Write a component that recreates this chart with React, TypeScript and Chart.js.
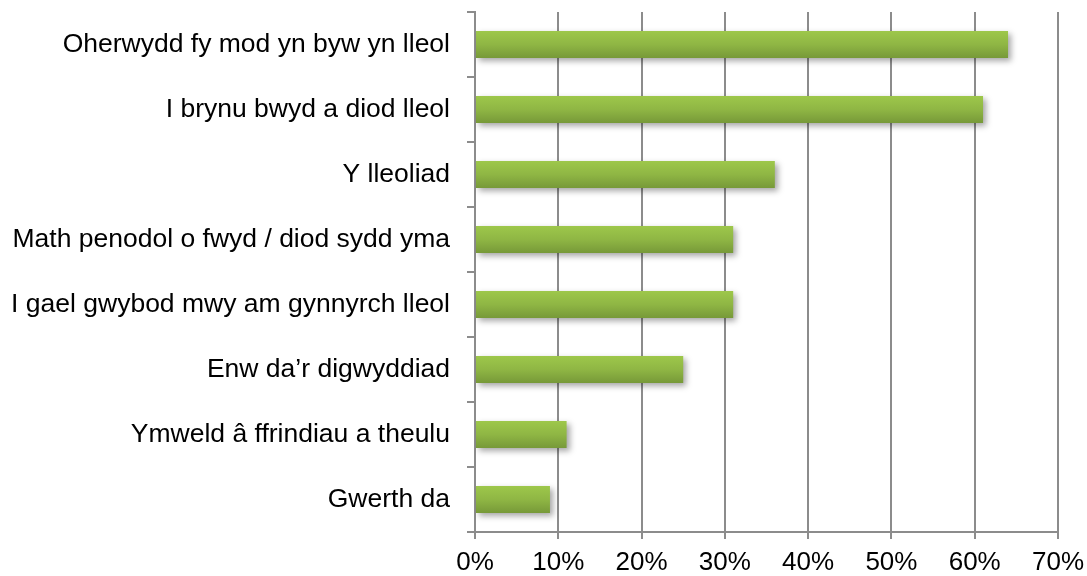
import React, { useEffect, useRef } from "react";
import { Chart, registerables } from "chart.js";

Chart.register(...registerables);

const categories: string[] = [
  "Oherwydd fy mod yn byw yn lleol",
  "I brynu bwyd a diod lleol",
  "Y lleoliad",
  "Math penodol o fwyd / diod sydd yma",
  "I gael gwybod mwy am gynnyrch lleol",
  "Enw da\u2019r digwyddiad",
  "Ymweld \u00e2 ffrindiau a theulu",
  "Gwerth da",
];

const values: number[] = [64, 61, 36, 31, 31, 25, 11, 9];

const tickMin = 0;
const tickMax = 70;
const tickStep = 10;

const GRID = "#8c8c8c";
const FONT = '"Liberation Sans", Arial, sans-serif';

const shadowPlugin = {
  id: "barShadow",
  beforeDatasetsDraw(chart: any) {
    const ctx = chart.ctx;
    ctx.save();
    ctx.shadowColor = "rgba(0,0,0,0.35)";
    ctx.shadowBlur = 6;
    ctx.shadowOffsetX = 3;
    ctx.shadowOffsetY = 3;
  },
  afterDatasetsDraw(chart: any) {
    chart.ctx.restore();
  },
};

export default function App() {
  const canvasRef = useRef<HTMLCanvasElement | null>(null);

  useEffect(() => {
    const canvas = canvasRef.current;
    if (!canvas) return;
    const chart = new Chart(canvas, {
      type: "bar",
      data: {
        labels: categories,
        datasets: [
          {
            data: values,
            backgroundColor: (c: any) => {
              const ch = c.chart;
              const ys = ch.scales && ch.scales.y;
              if (!ch.chartArea || !ys || c.dataIndex === undefined) return "#8bb042";
              const y = ys.getPixelForValue(c.dataIndex);
              const g = ch.ctx.createLinearGradient(0, y - 14, 0, y + 14);
              g.addColorStop(0, "#9ec84b");
              g.addColorStop(0.5, "#8fb644");
              g.addColorStop(1, "#769838");
              return g;
            },
            borderWidth: 0,
            categoryPercentage: 1,
            barPercentage: 0.415,
          },
        ],
      },
      options: {
        indexAxis: "y",
        responsive: false,
        animation: false,
        layout: { padding: { left: 0, right: 29, top: 12, bottom: 0 } },
        plugins: {
          legend: { display: false },
          tooltip: { enabled: false },
          title: { display: false },
        },
        scales: {
          x: {
            type: "linear",
            min: tickMin,
            max: tickMax,
            ticks: {
              stepSize: tickStep,
              callback: (v: any) => v + "%",
              color: "#000",
              font: { family: FONT, size: 26 },
              padding: 8,
              maxRotation: 0,
            },
            grid: {
              color: GRID,
              lineWidth: 2,
              drawTicks: true,
              tickLength: 7,
              tickColor: GRID,
            },
            border: { color: GRID, width: 2 },
            afterFit: (s: any) => {
              s.height = 44;
              s.paddingLeft = 0;
              s.paddingRight = 0;
              s.paddingTop = 0;
              s.paddingBottom = 0;
            },
          },
          y: {
            type: "category",
            ticks: {
              color: "#000",
              font: { family: FONT, size: 26.5 },
              padding: 17,
              autoSkip: false,
            },
            grid: {
              offset: true,
              drawOnChartArea: false,
              drawTicks: true,
              tickLength: 8,
              color: GRID,
              lineWidth: 2,
            },
            border: { color: GRID, width: 2 },
            afterFit: (s: any) => {
              s.width = 475;
              s.paddingLeft = 0;
              s.paddingRight = 0;
              s.paddingTop = 0;
              s.paddingBottom = 0;
            },
          },
        },
      },
      plugins: [shadowPlugin],
    } as any);
    return () => chart.destroy();
  }, []);

  return (
    <div style={{ position: "absolute", left: 0, top: 0, width: 1087, height: 576, background: "#fff" }}>
      <canvas ref={canvasRef} width={1087} height={576} style={{ display: "block" }} />
    </div>
  );
}
